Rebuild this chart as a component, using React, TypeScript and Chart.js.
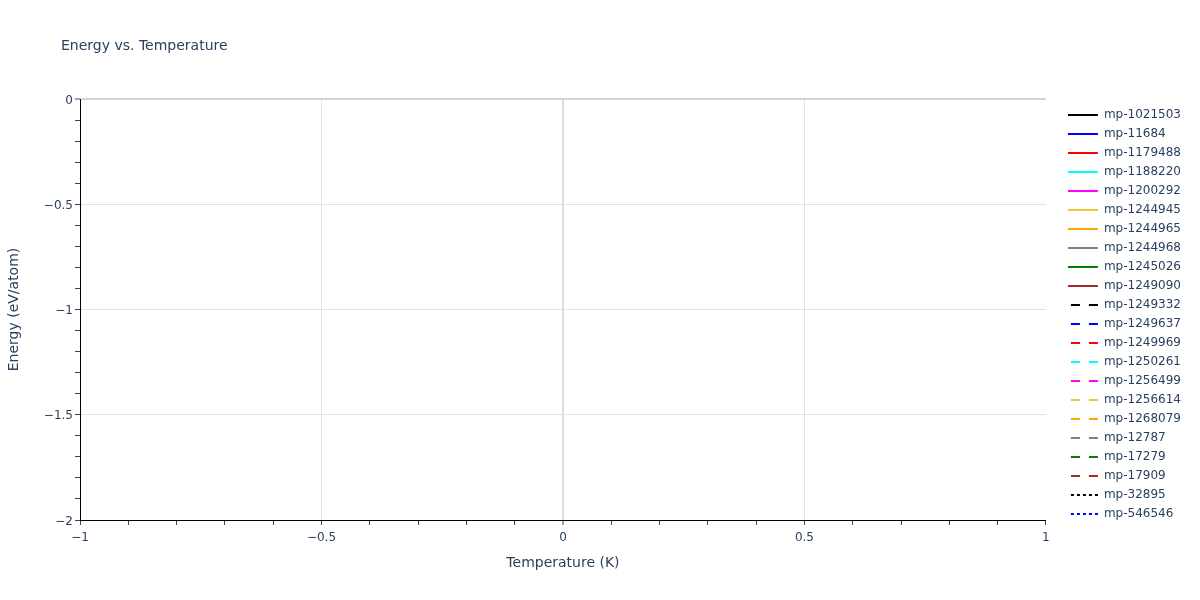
import { useEffect, useRef } from 'react';
import Chart from 'chart.js/auto';

const FONT = "'DejaVu Sans', Verdana, sans-serif";
const INK = '#2a3f5f';

const SERIES = [
  'mp-1021503', 'mp-11684', 'mp-1179488', 'mp-1188220', 'mp-1200292',
  'mp-1244945', 'mp-1244965', 'mp-1244968', 'mp-1245026', 'mp-1249090',
  'mp-1249332', 'mp-1249637', 'mp-1249969', 'mp-1250261', 'mp-1256499',
  'mp-1256614', 'mp-1268079', 'mp-12787', 'mp-17279', 'mp-17909',
  'mp-32895', 'mp-546546'
];

const COLORS = [
  'black', 'blue', 'red', 'cyan', 'magenta', '#efc63a', 'orange', 'gray', 'green', 'brown',
  'black', 'blue', 'red', 'cyan', 'magenta', '#efc63a', 'orange', 'gray', 'green', 'brown',
  'black', 'blue'
];

const STYLES = [
  'solid', 'solid', 'solid', 'solid', 'solid', 'solid', 'solid', 'solid', 'solid', 'solid',
  'dash', 'dash', 'dash', 'dash', 'dash', 'dash', 'dash', 'dash', 'dash', 'dash',
  'dot', 'dot'
];

// no points in any series: the plot is empty
const VALUES: { x: number; y: number }[][] = SERIES.map(() => []);

const X_MIN = -1;
const X_MAX = 1;
const Y_MIN = -2;
const Y_MAX = 0;

const DASH: Record<string, number[]> = { solid: [], dash: [9, 9], dot: [3, 3] };
const DASH_OFFSET: Record<string, number> = { solid: 0, dash: 15, dot: 3 };

const isMajor = (v: number) => Math.abs(v * 2 - Math.round(v * 2)) < 1e-6;
const fmt = (v: number) => {
  const r = Math.round(v * 10) / 10;
  return r < 0 ? '\u2212' + Math.abs(r) : String(r);
};

// move the legend a little away from the plot, as plotly does
const legendGap = {
  id: 'legendGap',
  afterLayout(chart: any) {
    const l = chart.legend;
    if (l) {
      l.left += 15;
      l.right += 15;
    }
  }
};

export default function App() {
  const ref = useRef<HTMLCanvasElement | null>(null);

  useEffect(() => {
    let chart: Chart | null = null;
    if (ref.current) {
      chart = new Chart(ref.current, {
        type: 'line',
        data: {
          datasets: SERIES.map((name, i) => ({
            label: name,
            data: VALUES[i],
            borderColor: COLORS[i],
            backgroundColor: COLORS[i],
            borderWidth: 2,
            borderDash: DASH[STYLES[i]],
            borderDashOffset: DASH_OFFSET[STYLES[i]],
            pointRadius: 0
          }))
        },
        options: {
          animation: false,
          responsive: true,
          maintainAspectRatio: false,
          layout: { padding: { top: 99, right: 24, bottom: 0, left: 0 } },
          plugins: {
            title: { display: false },
            tooltip: { enabled: false },
            legend: {
              position: 'right',
              align: 'start',
              title: { display: true, text: '', font: { size: 1, lineHeight: 1 }, padding: { top: 0, bottom: 2 } },
              labels: {
                usePointStyle: true,
                pointStyleWidth: 30,
                padding: 7,
                color: INK,
                font: { family: FONT, size: 12 },
                generateLabels: (c: any) =>
                  c.data.datasets.map((ds: any, i: number) => ({
                    text: ds.label,
                    strokeStyle: ds.borderColor,
                    fillStyle: ds.borderColor,
                    fontColor: INK,
                    lineWidth: 2,
                    lineCap: 'butt',
                    lineDash: ds.borderDash,
                    lineDashOffset: ds.borderDashOffset,
                    pointStyle: 'line',
                    hidden: false,
                    datasetIndex: i
                  }))
              }
            }
          },
          scales: {
            x: {
              type: 'linear',
              min: X_MIN,
              max: X_MAX,
              afterFit: (s: any) => {
                s.height = 80;
              },
              ticks: {
                stepSize: 0.1,
                autoSkip: false,
                maxRotation: 0,
                padding: 6,
                color: INK,
                font: { family: FONT, size: 12 },
                callback: (v: any) => (isMajor(Number(v)) ? fmt(Number(v)) : '')
              },
              grid: {
                color: (c: any) => {
                  const v = c.tick ? c.tick.value : 0;
                  if (Math.abs(v) < 1e-6) return '#dcdcdc';
                  if (Math.abs(v) > 0.99) return 'rgba(0,0,0,0)';
                  return isMajor(v) ? '#e2e2e2' : 'rgba(0,0,0,0)';
                },
                lineWidth: (c: any) => (c.tick && Math.abs(c.tick.value) < 1e-6 ? 2 : 1),
                tickColor: '#444',
                tickWidth: 1,
                tickLength: 5
              },
              border: { color: '#000', width: 1 },
              title: {
                display: true,
                text: 'Temperature (K)',
                color: INK,
                font: { family: FONT, size: 14 },
                padding: { top: 0, bottom: 28.6 }
              }
            },
            y: {
              type: 'linear',
              min: Y_MIN,
              max: Y_MAX,
              afterFit: (s: any) => {
                s.width = 80;
              },
              ticks: {
                stepSize: 0.1,
                autoSkip: false,
                padding: 2,
                labelOffset: 1.5,
                color: INK,
                font: { family: FONT, size: 12 },
                callback: (v: any) => (isMajor(Number(v)) ? fmt(Number(v)) : '')
              },
              grid: {
                color: (c: any) => {
                  const v = c.tick ? c.tick.value : 0;
                  if (Math.abs(v) < 1e-6) return '#d4d4d4';
                  if (v < -1.99) return 'rgba(0,0,0,0)';
                  return isMajor(v) ? '#e2e2e2' : 'rgba(0,0,0,0)';
                },
                lineWidth: (c: any) => (c.tick && Math.abs(c.tick.value) < 1e-6 ? 2 : 1),
                tickColor: '#444',
                tickWidth: 1,
                tickLength: 5
              },
              border: { color: '#000', width: 1 },
              title: {
                display: true,
                text: 'Energy (eV/atom)',
                color: INK,
                font: { family: FONT, size: 14 },
                padding: { top: 5.6, bottom: 0 }
              }
            }
          }
        },
        plugins: [legendGap]
      });
    }
    return () => {
      if (chart) chart.destroy();
    };
  }, []);

  return (
    <div style={{ position: 'absolute', left: 0, top: 0, width: 1200, height: 600, background: '#fff' }}>
      <div
        style={{
          position: 'absolute',
          left: 61,
          top: 35,
          lineHeight: '20px',
          fontSize: 14,
          fontFamily: FONT,
          color: INK,
          whiteSpace: 'nowrap'
        }}
      >
        Energy vs. Temperature
      </div>
      <canvas ref={ref} />
    </div>
  );
}
